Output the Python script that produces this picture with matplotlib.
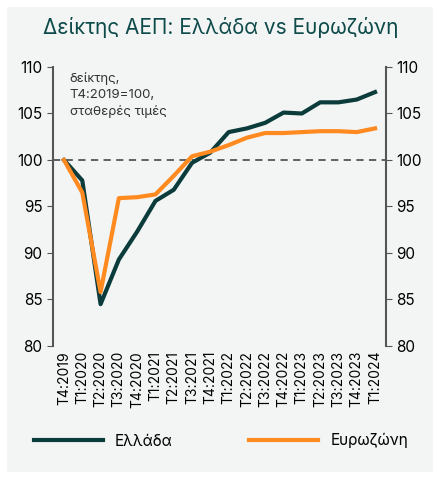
import matplotlib.pyplot as plt
from matplotlib.patches import Rectangle

plt.rcParams['font.family'] = ['Inter', 'DejaVu Sans']

quarters = ['T4:2019', 'T1:2020', 'T2:2020', 'T3:2020', 'T4:2020', 'T1:2021', 'T2:2021',
            'T3:2021', 'T4:2021', 'T1:2022', 'T2:2022', 'T3:2022', 'T4:2022', 'T1:2023',
            'T2:2023', 'T3:2023', 'T4:2023', 'T1:2024']
greece = [100, 97.8, 84.5, 89.3, 92.3, 95.6, 96.8, 99.7, 100.8, 103.0, 103.4, 104.0,
          105.1, 105.0, 106.2, 106.2, 106.5, 107.3]
eurozone = [100, 96.5, 85.8, 95.9, 96.0, 96.3, 98.3, 100.4, 100.9, 101.6, 102.4, 102.9,
            102.9, 103.0, 103.1, 103.1, 103.0, 103.4]

bg = '#f3f5f4'
fig = plt.figure(figsize=(4.42, 4.79), dpi=100, facecolor='white')
fig.patches.append(Rectangle((7/442, 7/479), 426/442, 465/479, transform=fig.transFigure,
                             facecolor=bg, edgecolor='none', zorder=-1))
ax = fig.add_axes([53/442, 1 - 346/479, 333/442, 279/479])
ax.set_facecolor(bg)

x = range(len(quarters))
ax.axhline(100, color='#555555', ls=(0, (4, 3)), lw=1.3)
ax.plot(x, greece, color='#0b3b3b', lw=3, label='Ελλάδα')
ax.plot(x, eurozone, color='#ff8a1f', lw=3, label='Ευρωζώνη')

ax.set_ylim(80, 110)
ax.set_xlim(-0.6, len(quarters) - 0.4)
ax.set_yticks([80, 85, 90, 95, 100, 105, 110])
ax.set_xticks(list(x))
ax.set_xticklabels(quarters, rotation=90, fontsize=10)
ax.tick_params(axis='y', labelsize=11, length=4, color='#555555', labelright=True, right=True)
ax.tick_params(axis='x', length=0)
for s in ['top', 'bottom']:
    ax.spines[s].set_visible(False)
for s in ['left', 'right']:
    ax.spines[s].set_color('#555555')
    ax.spines[s].set_linewidth(1.5)

ax.text(0.05, 0.98, 'δείκτης,\nT4:2019=100,\nσταθερές τιμές', transform=ax.transAxes,
        va='top', fontsize=9.5, color='#333333', linespacing=1.4)

fig.text(0.5, 0.93, 'Δείκτης ΑΕΠ: Ελλάδα vs Ευρωζώνη', ha='center', fontsize=15, color='#0e4a4a')
fig.legend(loc='lower center', bbox_to_anchor=(0.5, 0.035), ncol=2, frameon=False,
           fontsize=11, handlelength=4.5, columnspacing=5)

fig.savefig('out.png', dpi=100, facecolor='white')
